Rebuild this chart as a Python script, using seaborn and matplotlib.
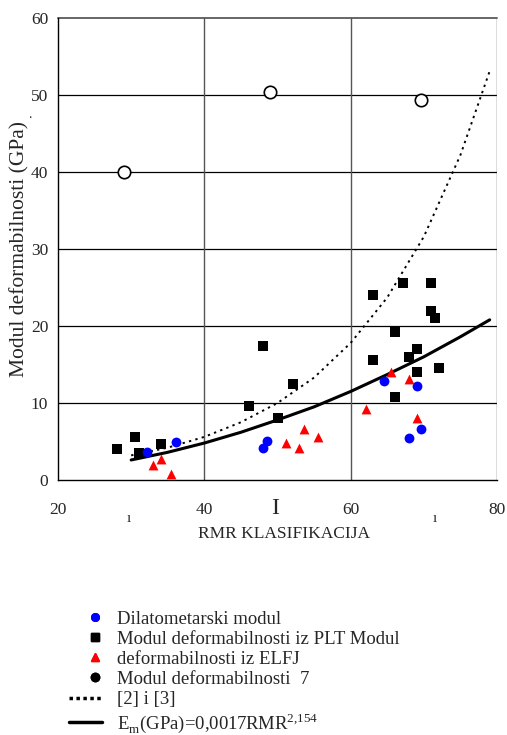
import numpy as np
import pandas as pd
import matplotlib
matplotlib.use("Agg")
import matplotlib.pyplot as plt
import seaborn as sns
from matplotlib.lines import Line2D
from matplotlib.legend_handler import HandlerLine2D

# Dilatometarski modul
dil_rmr = [32.1, 36.1, 48.0, 48.6, 64.6, 68.0, 69.0, 69.6]
dil_e = [3.6, 5.0, 4.2, 5.1, 12.9, 5.5, 12.2, 6.6]

# Modul deformabilnosti iz PLT
plt_rmr = [28.0, 30.5, 31.1, 34.1, 46.1, 48.0, 50.1, 52.1, 63.0, 63.0,
           66.1, 66.1, 67.1, 68.0, 69.0, 69.0, 71.0, 71.0, 71.5, 72.1]
plt_e = [4.0, 5.6, 3.5, 4.7, 9.6, 17.4, 8.0, 12.5, 24.0, 15.6,
         19.2, 10.8, 25.6, 16.0, 17.0, 14.0, 25.6, 22.0, 21.0, 14.6]

# Modul deformabilnosti iz ELFJ
elfj_rmr = [33.0, 34.1, 35.5, 51.1, 53.0, 53.6, 55.5, 62.1, 65.5, 68.0, 69.0]
elfj_e = [2.0, 2.7, 0.8, 4.8, 4.2, 6.6, 5.6, 9.2, 14.0, 13.1, 8.0]

# Modul deformabilnosti 7
m7_rmr = [29.0, 49.0, 69.6]
m7_e = [40.0, 50.4, 49.3]

# krivulje
curve_rmr = [30, 35, 40, 45, 50, 55, 60, 65, 70, 75, 79]
ref_e = [3.2, 4.2, 5.6, 7.5, 10.0, 13.3, 17.8, 23.7, 31.6, 42.2, 53.1]
fit_e = [2.6, 3.6, 4.8, 6.2, 7.8, 9.5, 11.5, 13.7, 16.0, 18.6, 20.8]


class MarkerRight(HandlerLine2D):
    # marker u legendi pomaknut udesno, kao u originalu
    def get_xdata(self, legend, xdescent, ydescent, width, height, fontsize):
        x = np.array([-xdescent + 0.8 * width] * 2)
        return x, x


sns.set_style("white")
plt.rcParams['font.family'] = ['Liberation Serif', 'DejaVu Serif']
plt.rcParams['mathtext.fontset'] = 'custom'
plt.rcParams['mathtext.rm'] = 'Liberation Serif'

fig = plt.figure(figsize=(5.07, 7.35), dpi=100)
ax = fig.add_axes([58 / 507, 255 / 735, 439 / 507, 462 / 735])

# mreža
for yv in [10, 20, 30, 40, 50]:
    ax.axhline(yv, color='black', lw=0.9, zorder=0)
ax.axhline(60, color='#666666', lw=1.4, zorder=0, clip_on=False)
for xv in [40, 60, 80]:
    ax.axvline(xv, color='#555555', lw=1.0, zorder=0)

sns.lineplot(x=curve_rmr, y=ref_e, ax=ax, color='black', lw=1.4,
             linestyle=(0, (1.2, 2.2)), zorder=2)
sns.lineplot(x=curve_rmr, y=fit_e, ax=ax, color='black', lw=2.2, zorder=2)

sns.scatterplot(x=plt_rmr, y=plt_e, ax=ax, marker='s', s=55, color='black',
                edgecolor='black', linewidth=0, zorder=3)
sns.scatterplot(x=dil_rmr, y=dil_e, ax=ax, marker='o', s=50, color='#0000ff',
                edgecolor='#0000ff', linewidth=0, zorder=4)
sns.scatterplot(x=elfj_rmr, y=elfj_e, ax=ax, marker='^', s=50, color='#ff0000',
                edgecolor='#ff0000', linewidth=0, zorder=4)
sns.scatterplot(x=m7_rmr, y=m7_e, ax=ax, marker='o', s=80, color='white',
                edgecolor='black', linewidth=1.2, zorder=4)

ax.set_xlim(20, 80)
ax.set_ylim(0, 60)
ax.set_xticks([20, 40, 60, 80])
ax.set_yticks([0, 10, 20, 30, 40, 50, 60])
ax.tick_params(axis='both', direction='out', length=5, width=1, color='black',
               labelsize=12.5)
ax.tick_params(axis='x', pad=11)
ax.tick_params(axis='y', pad=2)
for side in ['top', 'right']:
    ax.spines[side].set_visible(False)
for side in ['left', 'bottom']:
    ax.spines[side].set_color('black')
    ax.spines[side].set_linewidth(1.0)

ax.set_ylabel('Modul deformabilnosti (GPa)', fontsize=15.5)
ax.yaxis.set_label_coords(-0.064, 0.5)
fig.text(284 / 507, 1 - 534 / 735, 'RMR KLASIFIKACIJA', fontsize=12.5,
         ha='center', va='center')
fig.text(275 / 507, 1 - 509 / 735, 'I', fontsize=17, ha='center', va='center')
fig.text(129 / 507, 1 - 518 / 735, 'ı', fontsize=11, ha='center', va='center')
fig.text(435 / 507, 1 - 518 / 735, 'ı', fontsize=11, ha='center', va='center')
fig.text(30 / 507, 1 - 114 / 735, '.', fontsize=10, ha='center', va='center')

handles = [
    Line2D([], [], ls='none', marker='o', ms=5.5, color='#0000ff'),
    Line2D([], [], ls='none', marker='s', ms=6, color='black'),
    Line2D([], [], ls='none', marker='^', ms=5.5, color='#ff0000'),
    Line2D([], [], ls='none', marker='o', ms=6, color='black'),
    Line2D([], [], color='black', lw=2.5, ls=(0, (1, 1))),
    Line2D([], [], color='black', lw=2.5),
]
labels = [
    'Dilatometarski modul',
    'Modul deformabilnosti iz PLT Modul',
    'deformabilnosti iz ELFJ',
    'Modul deformabilnosti  7',
    '[2] i [3]',
    r'E$_\mathregular{m}$(GPa)=0,0017RMR$^\mathregular{2{,}154}$',
]
hmap = {h: MarkerRight(numpoints=2) for h in handles[:4]}
fig.legend(handles, labels, loc='upper left', bbox_to_anchor=(61 / 507, 1 - 603 / 735),
           frameon=False, fontsize=13.5, handlelength=1.76, handletextpad=0.85,
           labelspacing=0.16, borderaxespad=0, handler_map=hmap)

fig.savefig('out.png', dpi=100)
